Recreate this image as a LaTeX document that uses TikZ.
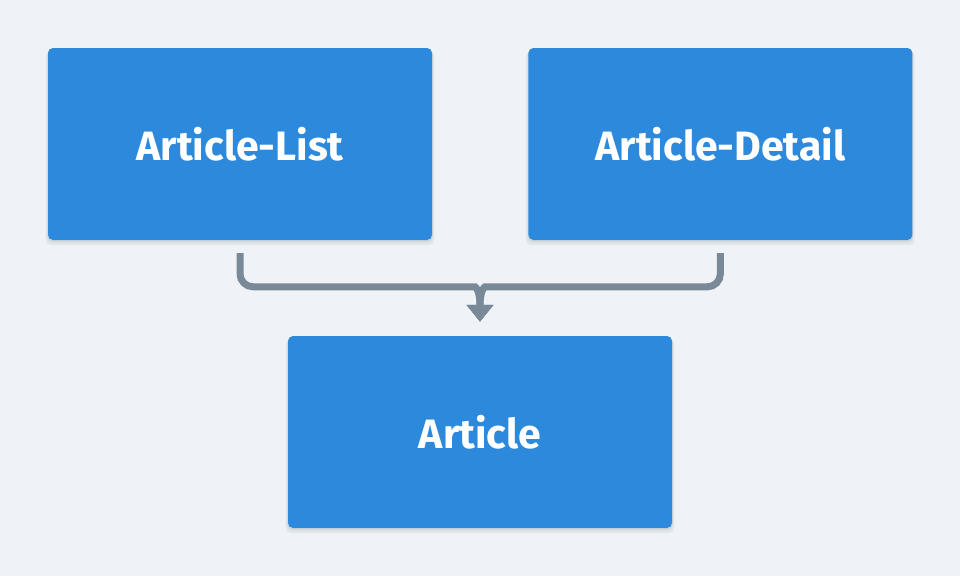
\documentclass[tikz,border=0pt]{standalone}
\usepackage{fontspec}
\setmainfont{Fira Sans}
\usetikzlibrary{positioning,calc,arrows.meta,shadows}
\definecolor{bgcol}{RGB}{239,243,247}
\definecolor{boxblue}{RGB}{45,137,219}
\definecolor{linkgray}{RGB}{122,137,152}
\tikzset{
  viewbox/.style={fill=boxblue, rounded corners=5pt, minimum width=384pt, minimum height=192pt,
    inner sep=0pt, text=white, font=\fontsize{41}{46}\selectfont\bfseries,
    general shadow={fill=black, opacity=0.05, shadow yshift=-4pt, shadow scale=1.012},
    general shadow={fill=black, opacity=0.06, shadow yshift=-2pt, shadow scale=1.004}},
  link/.style={draw=linkgray, line width=7pt, rounded corners=13pt,
    -{Triangle[width=26pt,length=17pt]}}
}

\begin{document}
\begin{tikzpicture}[x=1pt,y=-1pt]
		%%%%% START %%%%%
		
		\useasboundingbox[fill=bgcol] (0,0) rectangle (960,576);
		
		\node[viewbox] (list) at (240,144) {Article-List};
		\node[viewbox, right=96pt of list] (detail) {Article-Detail};
		\node[viewbox] (article) at (480,432) {Article};
		
		\coordinate (tip) at ($(article.north)+(0,-14)$);
		\coordinate (merge) at ($(tip)+(0,-35)$);
		
		\draw[link] ($(list.south)+(0,13)$) |- ($(merge)+(-18,0)$)
		  [rounded corners=0pt] .. controls ($(merge)+(-4,0)$) and ($(merge)+(0,5)$) .. (tip);
		\draw[link] ($(detail.south)+(0,13)$) |- ($(merge)+(18,0)$)
		  [rounded corners=0pt] .. controls ($(merge)+(4,0)$) and ($(merge)+(0,5)$) .. (tip);
		
		%%%%% END %%%%%
	\end{tikzpicture}
\end{document}
